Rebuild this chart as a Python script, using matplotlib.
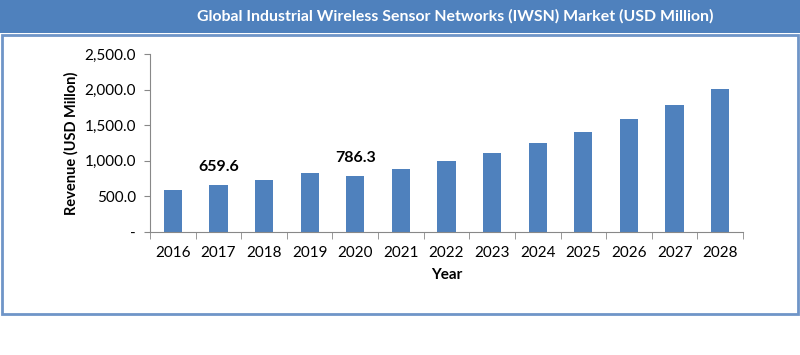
import matplotlib.pyplot as plt
from matplotlib.patches import Rectangle
from matplotlib.ticker import FuncFormatter

# data
years = ["2016", "2017", "2018", "2019", "2020", "2021", "2022",
         "2023", "2024", "2025", "2026", "2027", "2028"]
revenue = [588.0, 659.6, 735.0, 824.0, 786.3, 885.0, 997.0,
           1110.0, 1250.0, 1409.0, 1583.0, 1784.0, 2008.0]
labelled = {"2017": "659.6", "2020": "786.3"}

TITLE = "Global Industrial Wireless Sensor Networks (IWSN) Market (USD Million)"
BLUE = "#4F81BD"
W, H = 800, 355

plt.rcParams["font.family"] = ["Lato", "DejaVu Sans"]

fig = plt.figure(figsize=(W / 100, H / 100), dpi=100)

# banner + frame
fig.patches.append(Rectangle((0, 1 - 33 / H), 1, 33 / H, transform=fig.transFigure,
                             facecolor=BLUE, edgecolor="none", zorder=0))
fig.patches.append(Rectangle((2 / W, (H - 314) / H), 796 / W, (314 - 35) / H,
                             transform=fig.transFigure, facecolor="none",
                             edgecolor="#6F95C8", linewidth=2, zorder=1))
fig.text(455 / W, 1 - 16 / H, TITLE, color="white", fontsize=11.4,
         fontweight="bold", ha="center", va="center")

ax = fig.add_axes([150 / W, (H - 232) / H, 593 / W, 178 / H])
x = list(range(len(years)))
ax.bar(x, revenue, width=0.4, color=BLUE, zorder=2)

for i, (yr, v) in enumerate(zip(years, revenue)):
    if yr in labelled:
        ax.annotate(labelled[yr], (i, v), xytext=(0, 8), textcoords="offset points",
                    ha="center", va="bottom", fontsize=11.5, fontweight="bold")

ax.set_xlim(-0.5, len(years) - 0.5)
ax.set_ylim(0, 2500)
ax.set_yticks([0, 500, 1000, 1500, 2000, 2500])
ax.yaxis.set_major_formatter(FuncFormatter(lambda v, p: "-" if v == 0 else f"{v:,.1f}"))
ax.set_xticks(x)
ax.set_xticklabels(years)
ax.set_xticks([i - 0.5 for i in range(len(years) + 1)], minor=True)
ax.tick_params(axis="x", which="major", length=0, labelsize=11, pad=10)
ax.tick_params(axis="x", which="minor", length=5, color="#888888", direction="out")
ax.tick_params(axis="y", length=4, color="#888888", labelsize=11, pad=6)

for s in ["top", "right"]:
    ax.spines[s].set_visible(False)
for s in ["left", "bottom"]:
    ax.spines[s].set_color("#888888")

ax.set_ylabel("Revenue (USD Millon)", fontsize=10.5, fontweight="bold")
ax.yaxis.set_label_coords(-0.121, 0.5)
ax.set_xlabel("Year", fontsize=11, fontweight="bold", labelpad=6)

fig.savefig("out.png", dpi=100)
